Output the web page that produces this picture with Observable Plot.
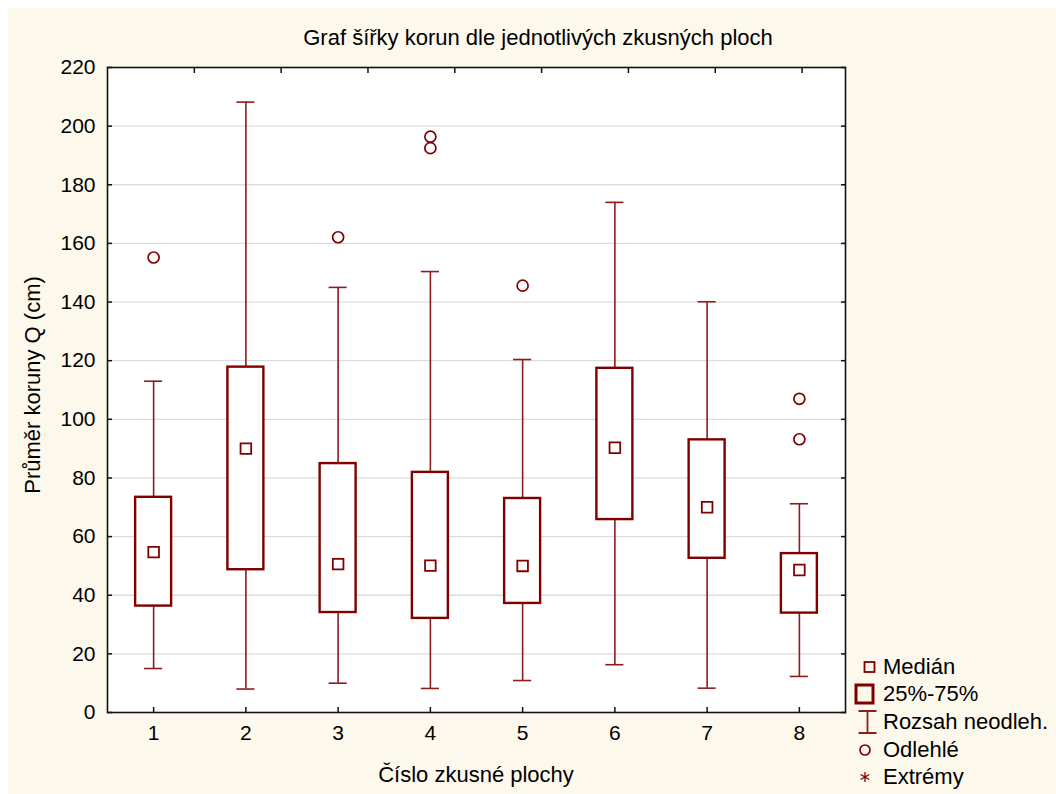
<!DOCTYPE html>
<html>
<head>
<meta charset="utf-8">
<script src="https://cdn.jsdelivr.net/npm/d3@7"></script>
<script src="https://cdn.jsdelivr.net/npm/@observablehq/plot@0.6"></script>
<style>
  html, body { margin: 0; padding: 0; background: #ffffff; }
  #wrap { position: absolute; left: 8px; top: 8px; width: 1048px; height: 786px; background: #fdf8ec; font-family: "Liberation Sans", Arial, sans-serif; color: #000; overflow: hidden; }
  #chart { position: absolute; left: 0; top: 0; }
  .lbl { position: absolute; white-space: nowrap; line-height: 1; }
  #title { font-size: 22px; left: 530px; top: 19px; transform: translateX(-50%); }
  #xlab { font-size: 22px; left: 468px; top: 756px; transform: translateX(-50%); }
  #ylab { font-size: 22px; left: 25px; top: 377px; transform: translate(-50%, -50%) rotate(-90deg); }
  #legend { position: absolute; left: 846px; top: 645px; }
  .li { position: absolute; left: 0; height: 30px; width: 200px; }
  .li svg { position: absolute; left: 0; top: 1px; }
  .li span { position: absolute; left: 29px; top: 4px; font-size: 22px; line-height: 1; white-space: nowrap; }
</style>
</head>
<body>
<div id="wrap">
  <div id="chart"></div>
  <div id="title" class="lbl">Graf šířky korun dle jednotlivých zkusných ploch</div>
  <div id="xlab" class="lbl">Číslo zkusné plochy</div>
  <div id="ylab" class="lbl">Průměr koruny Q (cm)</div>
  <div id="legend"></div>
</div>
<script>
// ---- data ----
const plots   = [1, 2, 3, 4, 5, 6, 7, 8];
const q1      = [36.3, 48.7, 34.1, 32.1, 37.2, 65.8, 52.6, 33.9];
const q3      = [73.4, 117.8, 84.9, 81.9, 73.0, 117.4, 93.0, 54.2];
const medians = [54.7, 90.0, 50.6, 50.1, 50.0, 90.3, 70.0, 48.6];
const whiskLo = [15.0, 8.0, 10.0, 8.2, 10.9, 16.3, 8.3, 12.3];
const whiskHi = [113.0, 208.2, 145.0, 150.4, 120.4, 174.0, 140.1, 71.2];
const outlierPlot  = [1, 3, 4, 4, 5, 8, 8];
const outlierValue = [155.2, 162.1, 196.4, 192.5, 145.6, 107.0, 93.2];
const yTicks = [0, 20, 40, 60, 80, 100, 120, 140, 160, 180, 200, 220];
const gridVals = [20, 40, 60, 80, 100, 120, 140, 160, 180, 200];
const legendLabels = ["Medián", "25%-75%", "Rozsah neodleh.", "Odlehlé", "Extrémy"];

const boxes = plots.map((p, i) => ({plot: p, q1: q1[i], q3: q3[i], med: medians[i], lo: whiskLo[i], hi: whiskHi[i]}));
const outliers = outlierPlot.map((p, i) => ({plot: p, v: outlierValue[i]}));
// unlabeled top ticks (Statistica style: 8 evenly spaced ticks over 8.5 divisions)
const topTicks = d3.range(1, 9).map(k => 0.5 + k * 8 / 8.5);

const RED = "#800000";
const WRED = "#8e1c1c";
const BH = 0.195;   // box half-width (x units)
const CH = 0.098;   // whisker cap half-width

const chart = Plot.plot({
  width: 1048,
  height: 786,
  marginLeft: 99,
  marginRight: 211,
  marginTop: 59,
  marginBottom: 82,
  style: {background: "transparent", fontFamily: "Liberation Sans, Arial, sans-serif", fontSize: "21px", color: "#000"},
  x: {domain: [0.5, 8.5], label: null},
  y: {domain: [0, 220], label: null},
  marks: [
    Plot.frame({fill: "#ffffff", stroke: null}),
    Plot.ruleY(gridVals, {stroke: "#dcdcdc", strokeWidth: 1.3}),
    // whiskers
    Plot.ruleX(boxes, {x: "plot", y1: "lo", y2: "q1", stroke: WRED, strokeWidth: 1.6}),
    Plot.ruleX(boxes, {x: "plot", y1: "q3", y2: "hi", stroke: WRED, strokeWidth: 1.6}),
    Plot.ruleY(boxes, {y: "lo", x1: d => d.plot - CH, x2: d => d.plot + CH, stroke: WRED, strokeWidth: 1.6}),
    Plot.ruleY(boxes, {y: "hi", x1: d => d.plot - CH, x2: d => d.plot + CH, stroke: WRED, strokeWidth: 1.6}),
    // boxes
    Plot.rect(boxes, {x1: d => d.plot - BH, x2: d => d.plot + BH, y1: "q1", y2: "q3", fill: "#ffffff", stroke: RED, strokeWidth: 2.4}),
    // medians
    Plot.dot(boxes, {x: "plot", y: "med", symbol: "square", r: 6.0, fill: "#ffffff", stroke: RED, strokeWidth: 1.8}),
    // outliers
    Plot.dot(outliers, {x: "plot", y: "v", r: 5.5, fill: "none", stroke: RED, strokeWidth: 1.7}),
    // frame
    Plot.frame({stroke: "#111", strokeWidth: 1.6}),
    // axes (inward ticks)
    Plot.axisY({anchor: "left", ticks: yTicks, tickSize: -5, tickPadding: 17, tickFormat: d => String(d), fontSize: 21, stroke: "#111", strokeWidth: 1.5}),
    Plot.axisY({anchor: "right", ticks: yTicks, tickSize: -5, tickFormat: () => "", stroke: "#111", strokeWidth: 1.5}),
    Plot.axisX({anchor: "bottom", ticks: plots, tickSize: -5, tickPadding: 18, tickFormat: d => String(d), fontSize: 21, stroke: "#111", strokeWidth: 1.5}),
    Plot.axisX({anchor: "top", ticks: topTicks, tickSize: -5, tickFormat: () => "", stroke: "#111", strokeWidth: 1.5})
  ]
});
document.getElementById("chart").appendChild(chart);

// ---- legend ----
const icons = [
  `<svg width="26" height="28"><rect x="10.5" y="9" width="10" height="10" fill="none" stroke="${RED}" stroke-width="1.8"/></svg>`,
  `<svg width="26" height="28"><rect x="2" y="5" width="17" height="18" fill="none" stroke="${RED}" stroke-width="3"/></svg>`,
  `<svg width="26" height="28"><path d="M4.5,3H22.5M13.5,3V25M4.5,25H22.5" fill="none" stroke="${WRED}" stroke-width="1.8"/></svg>`,
  `<svg width="26" height="28"><circle cx="11" cy="14" r="5" fill="none" stroke="${RED}" stroke-width="1.7"/></svg>`,
  `<svg width="26" height="28"><path d="M11,9V19M6.7,11.5L15.3,16.5M6.7,16.5L15.3,11.5" fill="none" stroke="${RED}" stroke-width="1.3"/></svg>`
];
const tops = [-1, 26, 54, 82, 109];
const leg = document.getElementById("legend");
legendLabels.forEach((t, i) => {
  const d = document.createElement("div");
  d.className = "li";
  d.style.top = tops[i] + "px";
  d.innerHTML = icons[i] + `<span>${t}</span>`;
  leg.appendChild(d);
});
</script>
</body>
</html>
